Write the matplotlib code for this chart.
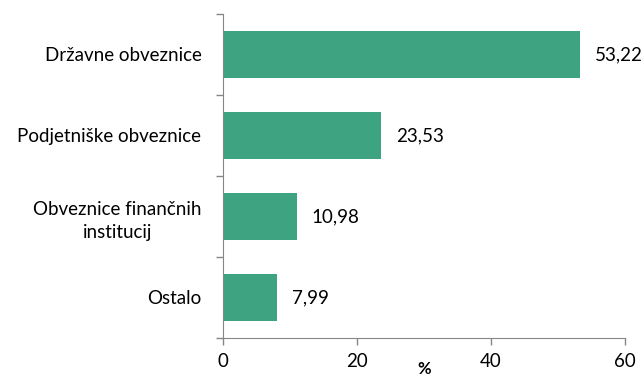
import matplotlib
matplotlib.use("Agg")
import matplotlib.pyplot as plt

categories = ["Državne obveznice", "Podjetniške obveznice",
              "Obveznice finančnih\ninstitucij", "Ostalo"]
values = [53.22, 23.53, 10.98, 7.99]
xticks = [0, 20, 40, 60]

plt.rcParams["font.family"] = ["Lato", "DejaVu Sans"]
FS = 13.5

fig = plt.figure(figsize=(6.43, 3.74), dpi=100)
ax = fig.add_axes([0.3468, 0.0963, 0.6252, 0.8663])

n = len(categories)
ypos = list(range(n))
ax.barh(ypos, values, height=0.58, color="#3DA381")
ax.set_ylim(n - 0.5, -0.5)
ax.set_xlim(0, 60)
ax.set_xticks(xticks)
ax.set_xticklabels([str(t) for t in xticks])
ax.set_yticks([i + 0.5 for i in range(-1, n)], minor=False)
ax.set_yticklabels([])
ax.set_yticks(ypos, minor=True)
ax.set_yticklabels(categories, minor=True, ha="right", multialignment="center",
                   linespacing=1.45)
ax.tick_params(axis="y", which="minor", length=0, pad=15.5, labelsize=FS)
ax.tick_params(axis="y", which="major", length=5, color="#868686", width=1)
ax.tick_params(axis="x", length=5, color="#868686", width=1, labelsize=FS, pad=6)

for s in ["top", "right"]:
    ax.spines[s].set_visible(False)
for s in ["left", "bottom"]:
    ax.spines[s].set_color("#868686")

for y, v in zip(ypos, values):
    ax.annotate(f"{v:.2f}".replace(".", ","), (v, y), xytext=(15, 0),
                textcoords="offset pixels", va="center", ha="left", fontsize=FS)

ax.set_xlabel("%", fontweight="bold", fontsize=12, labelpad=-7)

fig.savefig("out.png", dpi=100)
